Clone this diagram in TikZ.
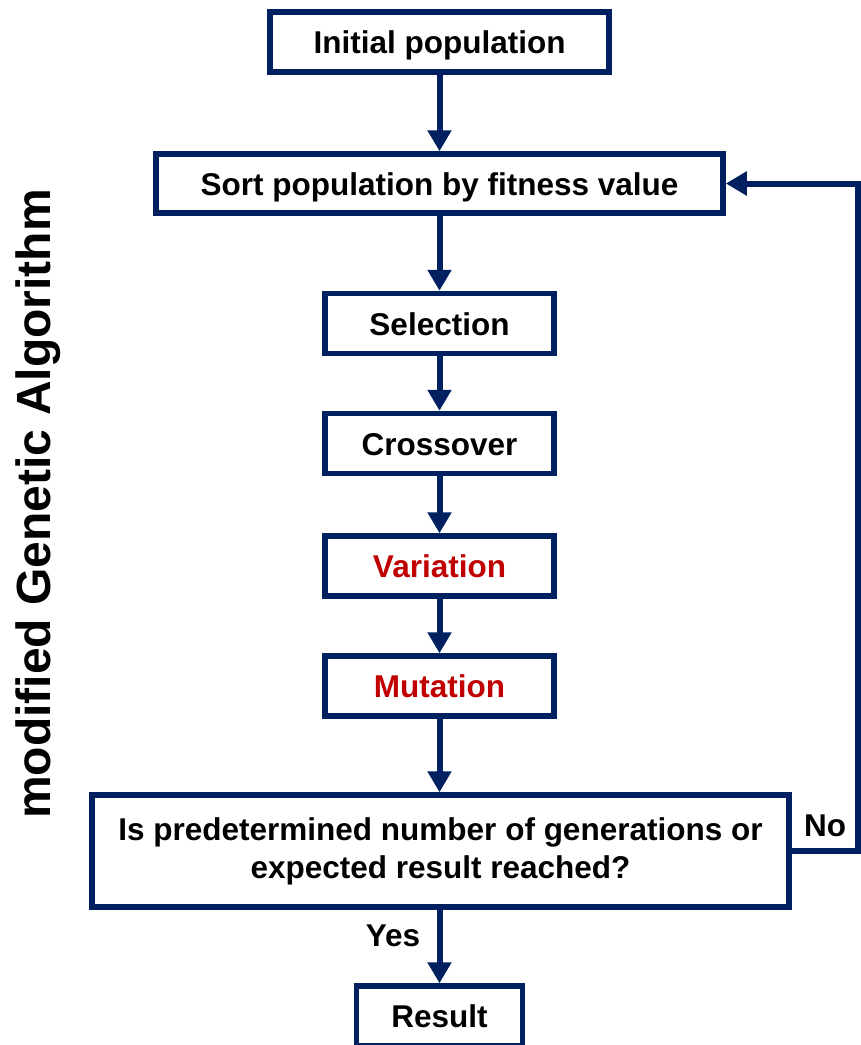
\documentclass[tikz,border=0pt]{standalone}
\usepackage{fontspec}
\setmainfont{Liberation Sans}
\usepackage{tikz}
\usetikzlibrary{arrows.meta}
\definecolor{navy}{HTML}{002060}
\definecolor{darkred}{HTML}{C00000}
\tikzset{
	stepbox/.style={draw=navy,line width=5.5pt,fill=white,inner sep=0pt,
		minimum height=60pt,text height=23pt,text depth=0pt,
		font=\fontsize{31.5}{38}\selectfont\bfseries},
	flow/.style={draw=navy,line width=6pt,-{Triangle[length=21pt,width=23pt]}},
	lbl/.style={font=\fontsize{31.5}{38}\selectfont\bfseries}
}

\begin{document}
\begin{tikzpicture}[x=1pt,y=-1pt]
		\useasboundingbox (0,0) rectangle (861,1045);
		% boxes
		\node[stepbox,minimum width=339pt] (init) at (439.5,42) {Initial population};
		\node[stepbox,minimum width=567pt,minimum height=59pt] (sort) at (439.5,183.5) {Sort population by fitness value};
		\node[stepbox,minimum width=229pt] (sel) at (439.5,323.5) {Selection};
		\node[stepbox,minimum width=229pt] (cross) at (439.5,443.5) {Crossover};
		\node[stepbox,minimum width=229pt,text=darkred] (var) at (439.5,566) {Variation};
		\node[stepbox,minimum width=229pt,text=darkred] (mut) at (439.5,686) {Mutation};
		\node[stepbox,minimum width=697pt,minimum height=112pt,align=center,
			text height=,text depth=] (dec) at (440.5,851)
			{Is predetermined number of generations or\\expected result reached?};
		\node[stepbox,minimum width=166pt] (res) at (439.5,1016) {Result};
		
		% side title
		\node[rotate=90,font=\fontsize{48}{56}\selectfont\bfseries] (title) at (38,504) {modified Genetic Algorithm};
		
		% arrows
		\draw[flow] (init) -- (sort);
		\draw[flow] (sort) -- (sel);
		\draw[flow] (sel) -- (cross);
		\draw[flow] (cross) -- (var);
		\draw[flow] (var) -- (mut);
		\draw[flow] (mut) -- (mut |- dec.north);
		\draw[flow] (dec.south -| res) -- (res);
		\coordinate (loop) at (858,851);
		\draw[flow] (dec.east |- loop) -- (loop) |- (sort.east);
		
		\node[lbl] (yes) at (393,936) {Yes};
		\node[lbl] (no) at (825,826) {No};
	\end{tikzpicture}
\end{document}
